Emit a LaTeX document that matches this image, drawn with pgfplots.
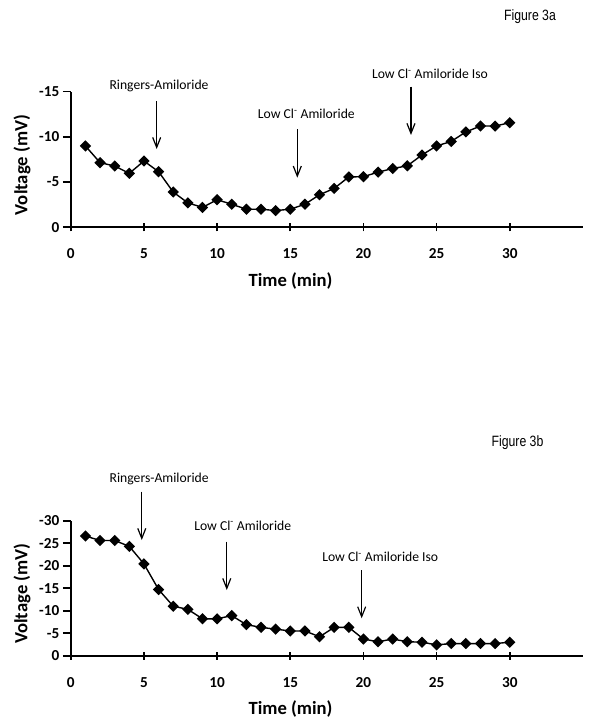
\documentclass[border=0pt]{standalone}
\usepackage{pgfplots}
\pgfplotsset{compat=1.18}
\usepackage{fontspec}
\setmainfont{Carlito}
\newfontfamily\arialfont{Liberation Sans}
\usepackage{graphicx}
\usetikzlibrary{arrows.meta}

\tikzset{
  arr/.style={line width=1.2bp, -{Straight Barb[length=10bp,width=8bp]}},
  ann/.style={font=\fontsize{13.7}{13.7}\selectfont, anchor=base, inner sep=0pt},
}
\pgfplotsset{
  panel/.style={
    scale only axis,
    width=512.1bp,
    xmin=0, xmax=35, ymin=0,
    axis lines=left,
    axis line style={-, line width=1.8bp, black},
    xtick={0,5,10,15,20,25,30},
    xticklabels={0,5,10,15,20,25,30},
    major tick length=8bp,
    xtick align=center,
    ytick align=outside,
    tick style={line width=1.6bp, black},
    ticklabel style={font=\bfseries\fontsize{15.3}{15.3}\selectfont},
    xticklabel style={yshift=-14bp},
    label style={font=\bfseries\fontsize{18.7}{18.7}\selectfont},
    xlabel={Time (min)},
    ylabel={Voltage (mV)},
    xlabel style={at={(axis description cs:0.429,-0.438)}, anchor=base},
    ylabel style={at={(axis description cs:-0.0846,0.459)}, anchor=base, rotate=0},
    clip=false,
  },
  data/.style={black, line width=1.4bp, mark=square*, mark size=3.3bp,
    mark options={rotate=45, solid, fill=black}},
}

\begin{document}
\begin{tikzpicture}
\path[use as bounding box] (0,0) rectangle (594bp,727bp);

\node[anchor=base, inner sep=0pt] at (530bp,706.3bp)
  {\scalebox{0.82}[1]{\arialfont\fontsize{15}{15}\selectfont Figure 3a}};
\node[anchor=base, inner sep=0pt] at (517.5bp,280.3bp)
  {\scalebox{0.82}[1]{\arialfont\fontsize{15}{15}\selectfont Figure 3b}};

% Panel a
\begin{axis}[panel, at={(70.8bp,499.7bp)}, anchor=south west,
  height=135.6bp, ymax=15,
  ytick={0,5,10,15}, yticklabels={0,-5,-10,-15}]
\addplot[data] coordinates {
(1,9.0) (2,7.15) (3,6.78) (4,5.97) (5,7.33) (6,6.15) (7,3.9) (8,2.7)
(9,2.2) (10,3.05) (11,2.55) (12,2.0) (13,2.0) (14,1.85) (15,2.0)
(16,2.55) (17,3.6) (18,4.3) (19,5.57) (20,5.6) (21,6.1) (22,6.5)
(23,6.8) (24,8.0) (25,9.0) (26,9.5) (27,10.55) (28,11.2) (29,11.2) (30,11.57)
};
\draw[arr] (axis cs:5.87,13.97) -- (axis cs:5.87,8.66);
\draw[arr] (axis cs:15.48,10.87) -- (axis cs:15.48,5.49);
\draw[arr] (axis cs:23.25,15.55) -- (axis cs:23.25,10.21);
\node[ann] at (axis cs:6.03,15.22) {Ringers-Amiloride};
\node[ann] at (axis cs:16.1,12.06) {Low Cl\textsuperscript{-} Amiloride};
\node[ann] at (axis cs:24.55,16.48) {Low Cl\textsuperscript{-} Amiloride Iso};
\end{axis}

% Panel b
\begin{axis}[panel, at={(70.8bp,71.3bp)}, anchor=south west,
  height=135bp, ymax=30,
  ytick={0,5,10,15,20,25,30}, yticklabels={0,-5,-10,-15,-20,-25,-30}]
\addplot[data] coordinates {
(1,26.6) (2,25.6) (3,25.6) (4,24.3) (5,20.4) (6,14.7) (7,11.0) (8,10.3)
(9,8.2) (10,8.2) (11,8.9) (12,6.9) (13,6.3) (14,5.9) (15,5.5)
(16,5.5) (17,4.2) (18,6.3) (19,6.3) (20,3.7) (21,3.1) (22,3.7)
(23,3.1) (24,3.0) (25,2.4) (26,2.7) (27,2.7) (28,2.7) (29,2.7) (30,3.0)
};
\draw[arr] (axis cs:4.85,36.44) -- (axis cs:4.85,25.71);
\draw[arr] (axis cs:10.66,25.33) -- (axis cs:10.66,14.6);
\draw[arr] (axis cs:19.88,19.04) -- (axis cs:19.88,8.31);
\node[ann] at (axis cs:6.04,38.44) {Ringers-Amiloride};
\node[ann] at (axis cs:11.75,27.93) {Low Cl\textsuperscript{-} Amiloride};
\node[ann] at (axis cs:21.15,20.89) {Low Cl\textsuperscript{-} Amiloride Iso};
\end{axis}
\end{tikzpicture}
\end{document}
